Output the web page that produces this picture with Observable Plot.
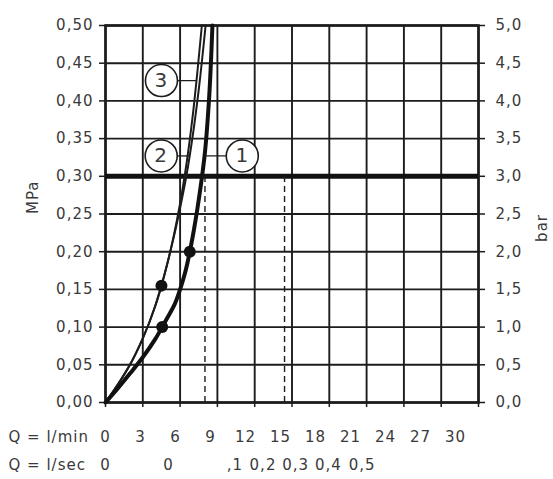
<!DOCTYPE html>
<html>
<head>
<meta charset="utf-8">
<script src="https://cdn.jsdelivr.net/npm/d3@7"></script>
<script src="https://cdn.jsdelivr.net/npm/@observablehq/plot@0.6"></script>
<style>
  html, body { margin: 0; padding: 0; background: #fff; }
  svg { display: block; }
</style>
</head>
<body>
<div id="chart"></div>
<script>
// ---- data ----
const flowTicks = [0, 3, 6, 9, 12, 15, 18, 21, 24, 27, 30];          // l/min
const mpaTicks = [0, 0.05, 0.10, 0.15, 0.20, 0.25, 0.30, 0.35, 0.40, 0.45, 0.50];

// curve 3 (thin, steepest)
const curve3Flow = [0, 1, 2, 3, 4, 4.5, 5, 5.5, 6, 6.5, 7, 7.4, 7.75];
const curve3Mpa  = [0, 0.024, 0.051, 0.085, 0.128, 0.155, 0.186, 0.222, 0.264, 0.315, 0.378, 0.44, 0.50];
// curve 2 (thin)
const curve2Flow = [0, 1, 2, 3, 4, 4.5, 5, 5.5, 6, 6.5, 7, 7.5, 8.05];
const curve2Mpa  = [0, 0.024, 0.051, 0.085, 0.128, 0.155, 0.186, 0.220, 0.258, 0.300, 0.352, 0.415, 0.50];
// curve 1 (thick)
const curve1Flow = [0, 1, 2, 3, 4, 4.56, 5, 5.5, 6, 6.4, 6.78, 7.1, 7.4, 7.7, 8.0, 8.3, 8.6];
const curve1Mpa  = [0, 0.019, 0.039, 0.06, 0.084, 0.10, 0.113, 0.128, 0.150, 0.172, 0.20, 0.228, 0.258, 0.292, 0.332, 0.395, 0.50];

// marked points
const dotFlow = [4.5, 4.56, 6.78];
const dotMpa  = [0.155, 0.10, 0.20];

// reference pressure and flow markers
const refMpa = [0.30];
const refFlow = [8.0, 14.4];

// curve labels
const labelIds  = ["1", "2", "3"];
const labelFlow = [11.0, 4.48, 4.5];
const labelMpa  = [0.327, 0.327, 0.427];
const labelReach = [8.0, 6.75, 7.3];   // flow where each leader line meets its curve

// bottom rows
const rowKeys = ["min", "sec"];
const rowTitles = ["Q = l/min", "Q = l/sec"];
const secLabels = ["0", "0", ",1", "0,2", "0,3", "0,4", "0,5"];
const secPos    = [0, 5.4, 11.1, 13.5, 16.3, 19.1, 22.0];

// ---- chart ----
const ink = "#1c1c1c";
const textInk = "#3a3a3a";
const font = {fontFamily: "DejaVu Sans, sans-serif", fontSize: "15px", letterSpacing: "1px"};

const main = Plot.plot({
  width: 553,
  height: 415,
  marginLeft: 105,
  marginRight: 75,
  marginTop: 25,
  marginBottom: 13,
  x: {domain: [0, 30]},
  y: {domain: [0, 0.5]},
  style: {...font, color: textInk, background: "#fff", overflow: "visible"},
  marks: [
    Plot.gridX(flowTicks, {stroke: ink, strokeOpacity: 1, strokeWidth: 1.9}),
    Plot.gridY(mpaTicks, {stroke: ink, strokeOpacity: 1, strokeWidth: 1.9}),
    Plot.axisY(mpaTicks, {anchor: "left", tickSize: 6, tickPadding: 6, stroke: ink, strokeWidth: 1.5, fill: textInk,
      tickFormat: d => d.toFixed(2).replace(".", ","), label: null}),
    Plot.axisY(mpaTicks, {anchor: "right", tickSize: 6, tickPadding: 11, stroke: ink, strokeWidth: 1.5, fill: textInk,
      tickFormat: d => (d * 10).toFixed(1).replace(".", ","), label: null}),
    Plot.axisX(flowTicks, {anchor: "bottom", tickSize: 5, stroke: ink, strokeWidth: 1.5, tickFormat: () => "", label: null}),
    Plot.frame({stroke: ink, strokeWidth: 2.6}),
    Plot.ruleY(refMpa, {stroke: "#111", strokeWidth: 5}),
    Plot.ruleX(refFlow, {y1: 0, y2: 0.30, stroke: ink, strokeWidth: 1.4, strokeDasharray: "6,4"}),
    Plot.line(curve3Flow, {x: curve3Flow, y: curve3Mpa, curve: "monotone-y", stroke: ink, strokeWidth: 2}),
    Plot.line(curve2Flow, {x: curve2Flow, y: curve2Mpa, curve: "monotone-y", stroke: ink, strokeWidth: 2}),
    Plot.line(curve1Flow, {x: curve1Flow, y: curve1Mpa, curve: "monotone-y", stroke: "#111", strokeWidth: 4}),
    Plot.dot(dotFlow, {x: dotFlow, y: dotMpa, r: 6, fill: "#111", stroke: "none"}),
    Plot.link(labelIds, {x1: labelFlow, x2: labelReach, y1: labelMpa, y2: labelMpa, stroke: ink, strokeWidth: 1.3}),
    Plot.dot(labelIds, {x: labelFlow, y: labelMpa, r: 16, fill: "#fff", stroke: ink, strokeWidth: 1.6}),
    Plot.text(labelIds, {x: labelFlow, y: labelMpa, text: d => d, fontSize: 20, fill: textInk, letterSpacing: 0}),
    Plot.text(["MPa"], {frameAnchor: "left", dx: -72, rotate: -90, fill: textInk}),
    Plot.text(["bar"], {frameAnchor: "right", dx: 64, rotate: -90, fill: textInk})
  ]
});

const rows = Plot.plot({
  width: 553,
  height: 64,
  margin: 0,
  x: {domain: [0, 30], range: [105, 455], axis: null},
  y: {type: "point", domain: rowKeys, range: [22, 50], padding: 0, axis: null},
  style: {...font, color: textInk, background: "#fff", overflow: "visible"},
  marks: [
    Plot.text(rowTitles, {frameAnchor: "left", y: rowKeys, dx: 8, textAnchor: "start", fill: textInk}),
    Plot.text(flowTicks, {x: d => d, y: () => "min", text: d => String(d), fill: textInk}),
    Plot.text(secLabels, {x: secPos, y: () => "sec", text: d => d, fill: textInk})
  ]
});

const root = document.getElementById("chart");
root.appendChild(main);
root.appendChild(rows);
</script>
</body>
</html>
